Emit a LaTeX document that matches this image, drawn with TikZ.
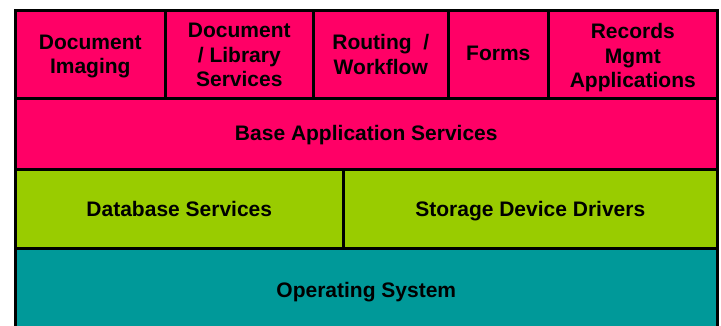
\documentclass[tikz,border=0pt]{standalone}
\usepackage{fontspec}
\setmainfont{Liberation Sans}
\definecolor{appPink}{HTML}{FF0066}
\definecolor{midGreen}{HTML}{99CC00}
\definecolor{osTeal}{HTML}{009999}
% strut for the first line of a label: taller than \strut so the text sits a bit low
\newcommand{\topstrut}[1][6pt]{\rule[-0.3\baselineskip]{0pt}{\dimexpr\baselineskip+#1\relax}}
\tikzset{
  layer/.style={draw=black, line width=2.6pt, rectangle, inner sep=0pt,
    align=center, font=\fontsize{21}{24.5}\selectfont\bfseries},
  cell/.style args={#1/#2/#3}{layer, fill=#1, minimum width=#2, minimum height=#3},
}
\begin{document}
\begin{tikzpicture}[x=1pt, y=-1pt]
  \useasboundingbox (0,0) rectangle (721,325);
  \begin{scope}
    \clip (0,0) rectangle (721,325);
    % operating system layer (runs past the lower edge)
    \node[cell={osTeal/702pt/86pt}, anchor=north west] (os) at (14,247)
      {\topstrut[2pt]Operating System};
  \end{scope}
  % database and storage layer
  \node[cell={midGreen/328pt/79pt}, anchor=north west] (db) at (14,168) {\topstrut Database Services};
  \node[cell={midGreen/374pt/79pt}, anchor=north west] (sd) at (342,168) {\topstrut Storage Device Drivers};
  % base services layer
  \node[cell={appPink/702pt/71pt}, anchor=north west] (base) at (14,97) {\topstrut[4pt]Base Application Services};
  % application modules
  \node[cell={appPink/150pt/88pt}, anchor=north west] (img) at (14,9)
    {\topstrut[5pt]Document\\\strut Imaging};
  \node[cell={appPink/148pt/88pt}, anchor=north west] (lib) at (164,9)
    {\topstrut Document\\\strut / Library\\\strut Services};
  \node[cell={appPink/135pt/88pt}, anchor=north west] (wf) at (312,9)
    {\topstrut Routing~~/\\\strut Workflow};
  \node[cell={appPink/100pt/88pt}, anchor=north west] (forms) at (447,9) {\topstrut[2pt]Forms};
  \node[cell={appPink/169pt/88pt}, anchor=north west] (rec) at (547,9)
    {\topstrut[8pt]Records\\\strut Mgmt\\\strut Applications};
\end{tikzpicture}
\end{document}
